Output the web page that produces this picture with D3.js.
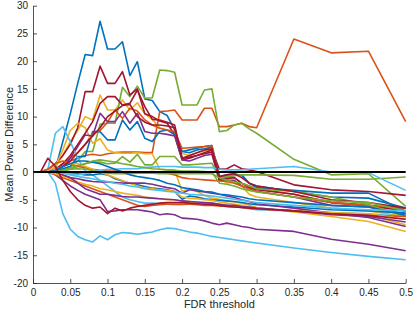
<!DOCTYPE html>
<html><head><meta charset="utf-8">
<script src="https://cdn.jsdelivr.net/npm/d3@7"></script>
<style>
html,body{margin:0;padding:0;background:#fff;}
svg{display:block;}
.tick text{font-family:"Liberation Sans",Arial,sans-serif;font-size:10px;fill:#262626;}
</style></head>
<body><svg id="c" width="415" height="312"></svg>
<script>
// FDR thresholds
const fdr = [0,0.01,0.02,0.03,0.04,0.05,0.06,0.07,0.08,0.09,0.10,0.11,0.12,0.13,0.14,0.15,0.16,0.17,0.18,0.19,0.20,0.21,0.22,0.23,0.24,0.25,0.26,0.27,0.28,0.29,0.30,0.35,0.40,0.45,0.50];
const xTicks = [0,0.05,0.1,0.15,0.2,0.25,0.3,0.35,0.4,0.45,0.5];
const xTickLabels = ["0","0.05","0.1","0.15","0.2","0.25","0.3","0.35","0.4","0.45","0.5"];
const yTicks = [-20,-15,-10,-5,0,5,10,15,20,25,30];

const s01 = [0,0,0,0.5,5.5,10.5,16,21.2,21,27.2,22.2,22.2,23.5,17.4,19.9,13.2,12.9,10.9,10.2,7.6,3.7,3.5,4,4.2,4.5,-1.4,-0.9,-0.6,-0.5,-2,-2.8,-3.3,-3.8,-3.8,-7.1];
const s02 = [0,0,0,0.5,1,2,2.5,3,3.2,3,3.3,3.5,3.6,3.6,3.6,3.5,3.5,10.9,11,11.2,9.4,9.4,9.4,11.5,11.5,8.2,8.2,8.5,8.8,8.2,8,24,21.5,21.8,9.1];
const s03 = [0,0,0,1,3,5.5,7.5,10,9.4,13.9,11.2,11.2,13,11.2,12.5,10.5,9.5,8,7.5,7.3,3.4,3,3.5,3.8,4,-1.1,-2,-1.8,-2.5,-4,-4.5,-5.5,-6.5,-7,-8];
const s04 = [0,0,0,-0.5,-1.5,-2.5,-3.3,-4,-4.5,-5,-7.1,-7,-6.8,-6.8,-6.8,-7,-7.2,-7.7,-7.5,-7.7,-8.3,-8.4,-8.5,-8.8,-9.2,-9.5,-9.2,-9.5,-9.8,-10,-10.3,-10.7,-12.1,-13,-14.2];
const s05 = [0,0,0,0,0.5,1,2,3.7,3.7,8.6,8.8,8.8,15.3,13.6,15.5,13.3,13.4,18.4,18.3,18,12.1,12.1,12.1,14.8,15,7.3,7.5,8.5,8.8,7.8,7,2.3,-0.5,-0.3,-6.2];
const s06 = [0,0,0,-2,-7.5,-10.3,-11.6,-12.2,-12.6,-11.5,-12.2,-11.3,-10.9,-11,-11.2,-11,-10.8,-10.4,-10.1,-10.2,-10.5,-10.8,-11,-11.3,-11.6,-11.8,-12,-12.2,-12.4,-12.6,-12.8,-13.7,-14.5,-15.2,-15.8];
const s07 = [0,0,0.5,1.5,3,5,8,14.5,14.5,19.1,16,16,18.1,13.9,15,10.5,10,9.2,8.8,6.7,2.2,2.5,3,3.5,4,0.5,0.6,1.3,0.6,0.4,0.1,-2.3,-3.2,-3.5,-4.2];
const s08 = [0,0,0,0.3,0.6,1,2.8,2.8,7.3,7.3,5.8,5.8,9.4,7.6,9.1,6.1,5.5,7.3,7.6,6.7,3.7,4,4.3,4.6,4.8,-0.8,-0.5,-0.3,-0.6,-2,-2.5,-3.5,-4.5,-4.7,-6.5];
const s09 = [0,0,0,0.5,1.5,2.5,3.5,5,7,7.5,9,11.2,9.7,11.5,11,9.4,8.5,7.9,7.6,7.3,4.3,4.4,4.5,4.6,4.8,-1,-0.8,-1,-2,-2.5,-3,-4,-5.5,-6,-7];
const s10 = [0,0,0,1,4,7.5,8.8,8,5.2,6,4,3.5,3.4,3.4,3.5,3.3,3.3,0.5,0.4,0.4,-3.5,-2.9,-3.5,-4.2,-4.7,-4.9,-5.2,-5.4,-5.6,-6,-6.4,-7.2,-8,-8.9,-10.7];
const s11 = [0,0,0,0.3,1,2.5,4.6,6.7,6.5,10.6,9.1,9.1,10.9,8.8,10.6,7.3,7,7,6.8,6.5,2.2,2,2.5,3,3.2,-1.5,-1.5,-1.5,-2.5,-3,-3.5,-4.5,-6,-6.3,-7.5];
const s12 = [0,0,0,0,0.2,0.5,1,1.5,1.8,1.8,1.5,1.6,2.8,1.8,3.2,1.3,1.3,2.8,2.8,2.8,1.3,1.3,1.4,1.5,1.6,-1.1,-0.8,-0.6,-0.5,-0.5,-0.5,-0.6,-1.3,-1.3,-0.9];
const s13 = [0,0,0.5,7,8.2,5.5,2.5,0.2,-0.5,-1.5,-2.5,-3.5,-4.5,-5,-5.3,-5.6,-5.6,-5.7,-5.8,-5.9,-5.9,-5.8,-5.7,-5.6,-5.6,-5.8,-6,-6.2,-6.4,-6.6,-6.8,-7,-7.3,-7.5,-8];
const s14 = [0,0,0,0.5,1.5,3,5,7,9.1,12.4,13.6,13.6,12.1,12.4,14.8,11.8,9.5,9.4,9,8.5,2.5,2.7,3,3.3,3.6,-1.5,-1.2,-1,-2,-2.8,-3.2,-4,-5.5,-6,-7];
const s15 = [0,0,0,0,0,-0.2,-0.3,-0.5,-0.5,-0.3,-0.5,-1.2,-1.6,-2,-2.3,-2.6,-2.9,-3,-3.2,-3.5,-4.9,-4.3,-4.5,-4.8,-5,-5.1,-5.2,-5.3,-5.5,-5.7,-5.9,-6.3,-6.8,-7,-7.4];
const s16 = [0,0,0.5,1.5,2,1.5,1,0.8,0.5,0.3,0.2,0.2,0.1,0.1,0,0,0.1,0,-0.2,-0.5,-1,-1.2,-1.3,-1.4,-1.5,-1.6,-1.7,-2,-2.5,-3,-3.5,-4.5,-5.5,-6,-6.5];
const s17 = [0,0,0,0.5,1,1.5,1.5,1,0.5,0,-0.5,-1,-1.5,-2,-2.5,-2.9,-3,-3.2,-3.3,-3.5,-4.5,-4.7,-4.8,-5,-5.1,-5.4,-5.6,-5.8,-6,-6.3,-6.6,-7,-7.5,-7.8,-9.5];
const s18 = [0,0,0,-0.3,-0.6,-1,-1.2,-1.5,-1.7,-1.8,-1.8,-1.9,-2,-2,-2,-2,-2.2,-2.5,-2.8,-3,-3.8,-3.2,-3.4,-3.6,-3.8,-4,-4.3,-4.6,-5,-5.3,-5.7,-6.5,-7.4,-8.2,-9.8];
const s19 = [0,0,0,0.2,0.3,0.5,0.6,0.5,0.3,0,-0.2,-0.3,-0.3,-0.3,-0.2,-0.2,-0.2,-0.3,-0.3,-0.3,-0.3,-0.3,-0.3,-0.3,-0.3,-1,-1.5,-1.8,-2,-2.5,-3,-3.5,-4.5,-5.9,-8];
const s20 = [0,0,0,0,0,-0.3,-0.5,-0.3,0,0.3,0.5,0.5,0.6,0.6,0.6,0.8,0.9,1,1,1,0.9,0.9,0.9,0.8,0.8,0.5,0.4,0.4,0.4,0.5,0.6,1,0,-0.1,-3.3];
const s21 = [0,0,0,0.3,1,2,3.5,5,6.5,8,10,11,12,12.2,10,9,8.5,8.5,8.3,8,2.5,3,3.5,4,4.2,-0.8,-0.5,-0.3,-1,-2,-2.5,-3.5,-5,-5.5,-6.5];
const s22 = [0,0,0,0.3,1,1.5,2,2,1.8,1.5,1,0.5,0,-0.5,-0.8,-1,-1.2,-1.5,-2,-2.3,-2.8,-3,-3.2,-3.5,-3.6,-4,-4.1,-4.3,-4.5,-4.8,-5,-5.5,-6,-6.3,-7.8];
const s23 = [0,0,0,-0.5,-1,-1.5,-2,-2.5,-3,-3.5,-4,-4.5,-5,-5.5,-6,-6.2,-6,-5.9,-5.8,-5.8,-5.8,-5.8,-5.9,-6,-6,-6.1,-6.2,-6.3,-6.4,-6.5,-6.6,-7,-7.5,-7.8,-8];
const s24 = [0,0,0,-0.3,-0.8,-1.2,-1.8,-2.2,-2.5,-3,-3.2,-3.5,-3.8,-4,-4.2,-4.5,-4.7,-4.8,-5,-5,-5.2,-5.3,-5.5,-5.6,-5.8,-5.9,-6,-6.2,-6.3,-6.5,-6.6,-7,-7.3,-7.5,-8.5];
const s25 = [0,0,0,0,-0.5,-1,-2,-3,-3.5,-4,-4,-4.2,-4.4,-4.5,-4.5,-4.6,-4.7,-4.8,-4.9,-5,-5.2,-5.3,-5.4,-5.5,-5.6,-5.8,-6,-6,-6.2,-6.3,-6.5,-7,-7.7,-8,-9];
const s26 = [0,0,0,0,0.3,0.8,1.2,1.5,2,2.2,2,1.8,1.5,1.3,1,0.8,0.6,0.5,0.4,0.3,0.2,0.2,0.2,0.1,0,-2,-2.2,-2.5,-3,-3.3,-3.6,-4.5,-5.2,-5.5,-7];
const s27 = [0,0,0,0,-0.2,-0.5,-0.8,-1,-1.2,-1.5,-1.7,-2,-2.2,-2.5,-2.7,-3,-3.2,-3.3,-3.5,-3.6,-3.8,-4,-4.1,-4.2,-4.3,-4.5,-4.7,-4.9,-5.1,-5.3,-5.5,-6,-6.5,-6.8,-7];
const s28 = [0,0,2.5,1,-1.5,-3.5,-5,-6,-6.5,-6.3,-7.5,-6.5,-7,-6.5,-6.2,-6,-5.8,-5.6,-5.5,-5.5,-5.5,-5.6,-5.7,-5.8,-5.9,-6,-6.2,-6.3,-6.4,-6.5,-6.6,-7,-7.5,-7.8,-8.5];

const seriesList = [s01,s02,s03,s04,s05,s06,s07,s08,s09,s10,s11,s12,s13,s14,s15,s16,s17,s18,s19,s20,s21,s22,s23,s24,s25,s26,s27,s28];

// MATLAB default color order, cycled
const palette = ["#0072BD","#D95319","#EDB120","#7E2F8E","#77AC30","#4DBEEE","#A2142F"];

const svg = d3.select("#c");
const x = d3.scaleLinear().domain([0,0.5]).range([33,405.7]);
const y = d3.scaleLinear().domain([-20,30]).range([283,5.7]);

const line = d3.line().x((d,i)=>x(fdr[i])).y(d=>y(d));

const g = svg.append("g");
seriesList.forEach((s,k)=>{
  g.append("path").datum(s).attr("d",line)
    .attr("fill","none").attr("stroke",palette[k%palette.length])
    .attr("stroke-width",1.6).attr("stroke-linejoin","round");
});

// zero reference line
svg.append("line").attr("x1",x(0)).attr("x2",x(0.5)).attr("y1",y(0)).attr("y2",y(0))
  .attr("stroke","#000").attr("stroke-width",2);

const xAxis = d3.axisBottom(x).tickValues(xTicks).tickFormat((d,i)=>xTickLabels[i])
  .tickSizeInner(-4).tickSizeOuter(0).tickPadding(6);
const yAxis = d3.axisLeft(y).tickValues(yTicks).tickFormat(d3.format("d"))
  .tickSizeInner(-4).tickSizeOuter(0).tickPadding(5);

const gx = svg.append("g").attr("transform",`translate(0,${y(-20)})`).call(xAxis);
const gy = svg.append("g").attr("transform",`translate(${x(0)},0)`).call(yAxis);
[gx,gy].forEach(a=>{
  a.select(".domain").attr("stroke","#262626").attr("stroke-width",0.8);
  a.selectAll(".tick line").attr("stroke","#262626").attr("stroke-width",0.8);
});
gy.selectAll(".tick text").text(d=>d<0?"-"+Math.abs(d):d);

svg.append("text").attr("x",(x(0)+x(0.5))/2).attr("y",308)
  .attr("text-anchor","middle").attr("font-family","Liberation Sans, Arial, sans-serif")
  .attr("font-size",11).attr("fill","#262626").text("FDR threshold");
svg.append("text").attr("transform",`translate(13,${(y(30)+y(-20))/2}) rotate(-90)`)
  .attr("text-anchor","middle").attr("font-family","Liberation Sans, Arial, sans-serif")
  .attr("font-size",11).attr("fill","#262626").text("Mean Power Difference");
</script></body></html>
